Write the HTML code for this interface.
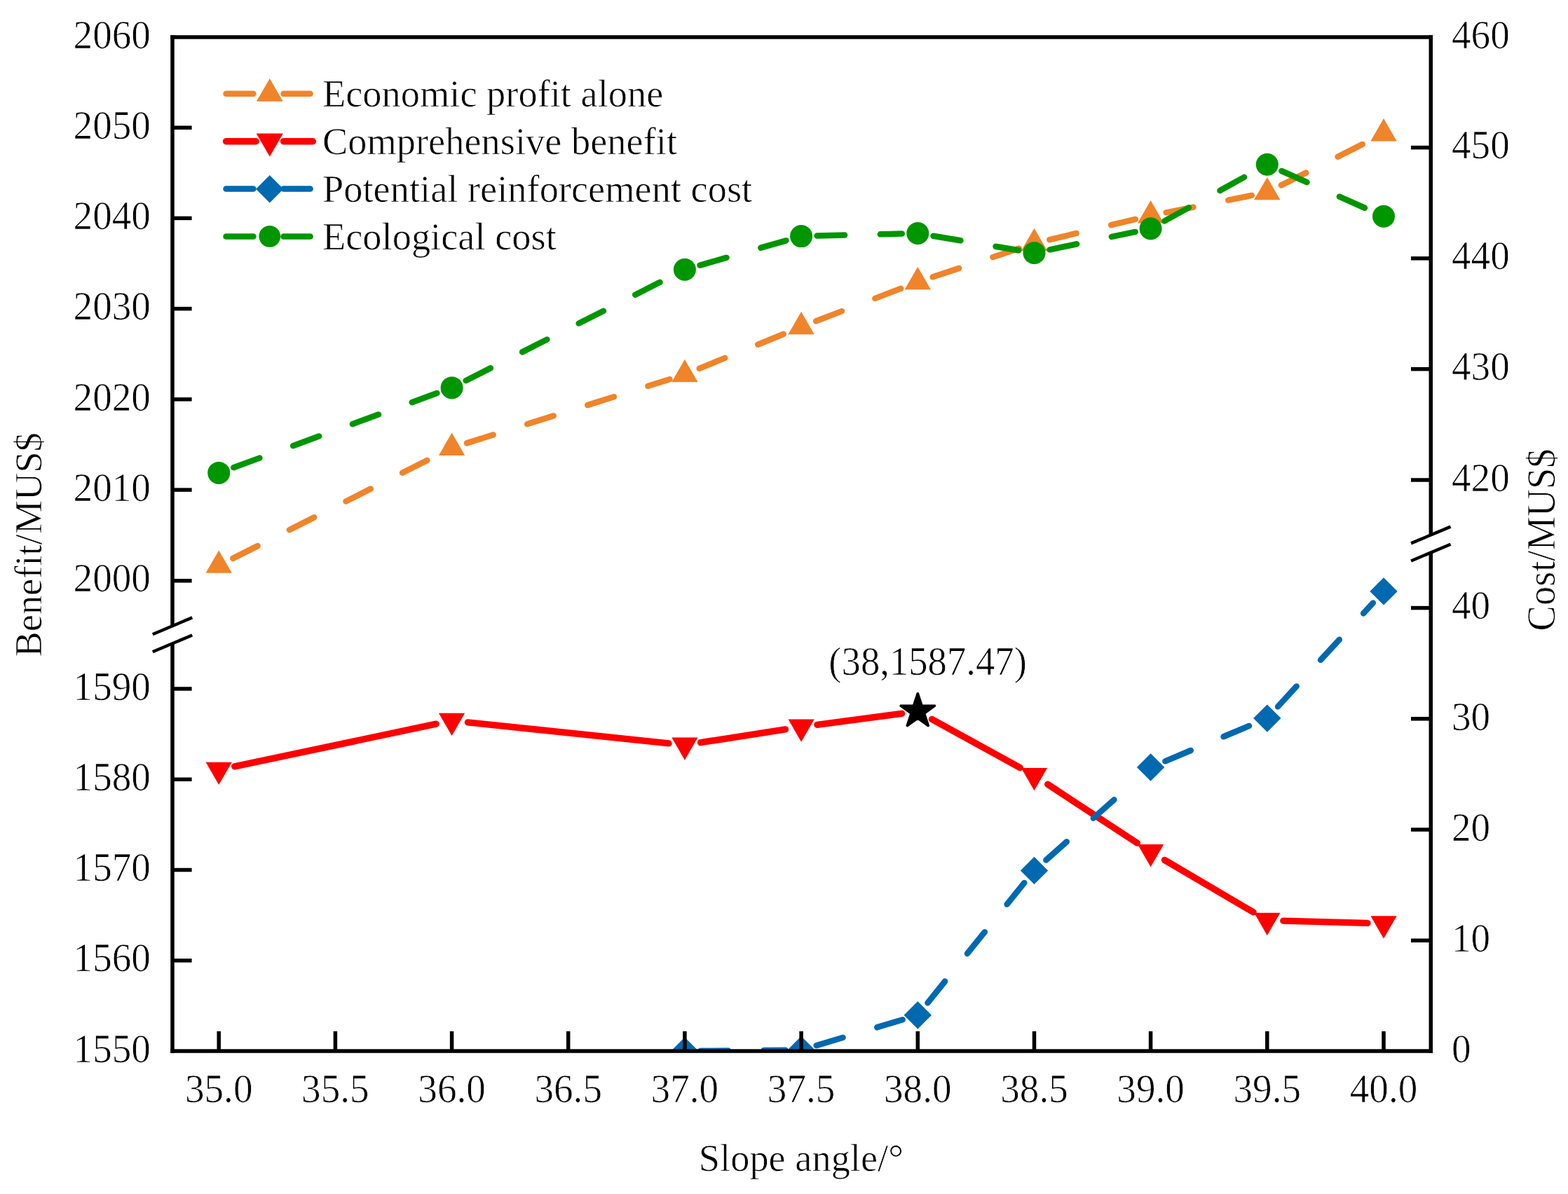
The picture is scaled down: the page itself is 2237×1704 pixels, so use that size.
<!DOCTYPE html>
<html lang="en"><head><meta charset="utf-8"><title>Benefit and cost versus slope angle</title>
<style>
html,body{margin:0;padding:0;background:#fff;}
body{width:2237px;height:1704px;overflow:hidden;}
svg{display:block;font-family:"Liberation Serif",serif;font-size:55.2px;fill:#000;}
text{stroke:#fff;stroke-width:0.7px;stroke-linejoin:round;}
</style></head><body>
<svg width="2237" height="1704" viewBox="0 0 2237 1704" role="img" aria-label="Benefit and cost versus slope angle">
<rect width="2237" height="1704" fill="#fff"/>
<defs><clipPath id="plot"><rect x="246.0" y="53.0" width="1795.3" height="1447.0"/></clipPath></defs>

<g clip-path="url(#plot)">
<line x1="332.3" y1="796.9" x2="624.5" y2="649.3" stroke="#F0842A" stroke-width="8.5" stroke-linecap="round" stroke-dasharray="39.5 50.8"/>
<line x1="666.0" y1="632.4" x2="955.5" y2="541.2" stroke="#F0842A" stroke-width="8.5" stroke-linecap="round" stroke-dasharray="39.5 50.8"/>
<line x1="997.7" y1="525.9" x2="1122.3" y2="474.9" stroke="#F0842A" stroke-width="8.5" stroke-linecap="round" stroke-dasharray="39.5 50.8"/>
<line x1="1164.1" y1="458.3" x2="1288.3" y2="410.5" stroke="#F0842A" stroke-width="8.5" stroke-linecap="round" stroke-dasharray="39.5 50.8"/>
<line x1="1330.6" y1="395.3" x2="1454.1" y2="354.4" stroke="#F0842A" stroke-width="8.5" stroke-linecap="round" stroke-dasharray="39.5 50.8"/>
<line x1="1497.3" y1="342.1" x2="1619.8" y2="312.9" stroke="#F0842A" stroke-width="8.5" stroke-linecap="round" stroke-dasharray="39.5 50.8"/>
<line x1="1663.7" y1="303.3" x2="1785.8" y2="278.9" stroke="#F0842A" stroke-width="8.5" stroke-linecap="round" stroke-dasharray="39.5 50.8"/>
<line x1="1827.9" y1="264.4" x2="1953.9" y2="200.8" stroke="#F0842A" stroke-width="8.5" stroke-linecap="round" stroke-dasharray="39.5 50.8"/>
<polygon points="312.2,785.4 330.9,817.8 293.5,817.8" fill="#F0842A"/>
<polygon points="644.6,617.6 663.3,650.0 625.9,650.0" fill="#F0842A"/>
<polygon points="976.9,512.8 995.6,545.2 958.2,545.2" fill="#F0842A"/>
<polygon points="1143.1,444.8 1161.8,477.2 1124.4,477.2" fill="#F0842A"/>
<polygon points="1309.3,380.8 1328.0,413.2 1290.6,413.2" fill="#F0842A"/>
<polygon points="1475.5,325.7 1494.2,358.1 1456.8,358.1" fill="#F0842A"/>
<polygon points="1641.6,286.1 1660.3,318.5 1622.9,318.5" fill="#F0842A"/>
<polygon points="1807.8,252.9 1826.5,285.3 1789.1,285.3" fill="#F0842A"/>
<polygon points="1974.0,169.1 1992.7,201.5 1955.3,201.5" fill="#F0842A"/>
<line x1="334.7" y1="1093.9" x2="622.1" y2="1033.2" stroke="#FF0000" stroke-width="9.4" stroke-linecap="round"/>
<line x1="667.4" y1="1030.9" x2="954.0" y2="1060.9" stroke="#FF0000" stroke-width="9.4" stroke-linecap="round"/>
<line x1="999.6" y1="1059.7" x2="1120.4" y2="1040.9" stroke="#FF0000" stroke-width="9.4" stroke-linecap="round"/>
<line x1="1165.9" y1="1034.3" x2="1286.5" y2="1018.3" stroke="#FF0000" stroke-width="9.4" stroke-linecap="round"/>
<line x1="1329.4" y1="1026.4" x2="1455.3" y2="1095.6" stroke="#FF0000" stroke-width="9.4" stroke-linecap="round"/>
<line x1="1494.7" y1="1119.3" x2="1622.4" y2="1203.1" stroke="#FF0000" stroke-width="9.4" stroke-linecap="round"/>
<line x1="1661.5" y1="1227.4" x2="1788.0" y2="1301.8" stroke="#FF0000" stroke-width="9.4" stroke-linecap="round"/>
<line x1="1830.8" y1="1314.1" x2="1951.0" y2="1317.4" stroke="#FF0000" stroke-width="9.4" stroke-linecap="round"/>
<polygon points="312.2,1120.1 330.8,1087.8 293.6,1087.8" fill="#FF0000"/>
<polygon points="644.6,1050.0 663.2,1017.8 625.9,1017.8" fill="#FF0000"/>
<polygon points="976.9,1084.8 995.5,1052.5 958.3,1052.5" fill="#FF0000"/>
<polygon points="1143.1,1058.8 1161.7,1026.5 1124.5,1026.5" fill="#FF0000"/>
<polygon points="1475.5,1128.2 1494.1,1096.0 1456.8,1096.0" fill="#FF0000"/>
<polygon points="1641.6,1237.2 1660.3,1205.0 1623.0,1205.0" fill="#FF0000"/>
<polygon points="1807.8,1335.0 1826.4,1302.8 1789.2,1302.8" fill="#FF0000"/>
<polygon points="1974.0,1339.5 1992.6,1307.2 1955.4,1307.2" fill="#FF0000"/>
<line x1="999.4" y1="1499.8" x2="1120.6" y2="1498.7" stroke="#0069B0" stroke-width="8.5" stroke-linecap="round" stroke-dasharray="39.5 50.8"/>
<line x1="1164.7" y1="1492.1" x2="1287.7" y2="1455.2" stroke="#0069B0" stroke-width="8.5" stroke-linecap="round" stroke-dasharray="39.5 50.8"/>
<line x1="1323.4" y1="1431.3" x2="1461.3" y2="1259.9" stroke="#0069B0" stroke-width="8.5" stroke-linecap="round" stroke-dasharray="39.5 50.8"/>
<line x1="1492.3" y1="1227.5" x2="1624.8" y2="1109.9" stroke="#0069B0" stroke-width="8.5" stroke-linecap="round" stroke-dasharray="39.5 50.8"/>
<line x1="1662.4" y1="1086.3" x2="1787.1" y2="1033.8" stroke="#0069B0" stroke-width="8.5" stroke-linecap="round" stroke-dasharray="39.5 50.8"/>
<line x1="1823.0" y1="1008.5" x2="1958.8" y2="860.5" stroke="#0069B0" stroke-width="8.5" stroke-linecap="round" stroke-dasharray="39.5 50.8"/>
<polygon points="976.9,1480.3 996.6,1500.0 976.9,1519.7 957.2,1500.0" fill="#0069B0"/>
<polygon points="1143.1,1478.8 1162.8,1498.5 1143.1,1518.2 1123.4,1498.5" fill="#0069B0"/>
<polygon points="1309.3,1429.1 1329.0,1448.8 1309.3,1468.5 1289.6,1448.8" fill="#0069B0"/>
<polygon points="1475.5,1222.7 1495.2,1242.4 1475.5,1262.1 1455.8,1242.4" fill="#0069B0"/>
<polygon points="1641.6,1075.3 1661.3,1095.0 1641.6,1114.7 1621.9,1095.0" fill="#0069B0"/>
<polygon points="1807.8,1005.4 1827.5,1025.1 1807.8,1044.8 1788.1,1025.1" fill="#0069B0"/>
<polygon points="1974.0,824.2 1993.7,843.9 1974.0,863.6 1954.3,843.9" fill="#0069B0"/>
<line x1="333.3" y1="667.2" x2="623.4" y2="561.1" stroke="#009600" stroke-width="8.5" stroke-linecap="round" stroke-dasharray="39.5 50.8"/>
<line x1="664.6" y1="543.2" x2="956.9" y2="395.0" stroke="#009600" stroke-width="8.5" stroke-linecap="round" stroke-dasharray="39.5 50.8"/>
<line x1="998.5" y1="378.6" x2="1121.5" y2="343.3" stroke="#009600" stroke-width="8.5" stroke-linecap="round" stroke-dasharray="39.5 50.8"/>
<line x1="1165.6" y1="336.5" x2="1286.8" y2="333.6" stroke="#009600" stroke-width="8.5" stroke-linecap="round" stroke-dasharray="39.5 50.8"/>
<line x1="1331.5" y1="336.7" x2="1453.3" y2="357.2" stroke="#009600" stroke-width="8.5" stroke-linecap="round" stroke-dasharray="39.5 50.8"/>
<line x1="1497.5" y1="356.3" x2="1619.6" y2="330.9" stroke="#009600" stroke-width="8.5" stroke-linecap="round" stroke-dasharray="39.5 50.8"/>
<line x1="1661.3" y1="315.4" x2="1788.1" y2="245.7" stroke="#009600" stroke-width="8.5" stroke-linecap="round" stroke-dasharray="39.5 50.8"/>
<line x1="1828.4" y1="244.0" x2="1953.4" y2="299.6" stroke="#009600" stroke-width="8.5" stroke-linecap="round" stroke-dasharray="39.5 50.8"/>
<circle cx="312.2" cy="674.9" r="16.0" fill="#009600"/>
<circle cx="644.6" cy="553.4" r="16.0" fill="#009600"/>
<circle cx="976.9" cy="384.8" r="16.0" fill="#009600"/>
<circle cx="1143.1" cy="337.1" r="16.0" fill="#009600"/>
<circle cx="1309.3" cy="333.0" r="16.0" fill="#009600"/>
<circle cx="1475.5" cy="360.9" r="16.0" fill="#009600"/>
<circle cx="1641.6" cy="326.3" r="16.0" fill="#009600"/>
<circle cx="1807.8" cy="234.8" r="16.0" fill="#009600"/>
<circle cx="1974.0" cy="308.8" r="16.0" fill="#009600"/>
</g>
<polygon points="1309.3,988.6 1315.3,1006.9 1334.5,1006.9 1318.9,1018.2 1324.9,1036.5 1309.3,1025.2 1293.7,1036.5 1299.7,1018.2 1284.1,1006.9 1303.3,1006.9" fill="#000" stroke="#000" stroke-width="3" stroke-linejoin="bevel"/>
<g stroke="#000" stroke-width="5.5" fill="none" stroke-linecap="square">
<line x1="246.0" y1="53.0" x2="2041.3" y2="53.0"/>
<line x1="246.0" y1="1500.0" x2="2041.3" y2="1500.0"/>
<line x1="246.0" y1="53.0" x2="246.0" y2="1500.0"/>
<line x1="2041.3" y1="53.0" x2="2041.3" y2="1500.0"/>
</g>
<g stroke="#000" stroke-width="5.5" fill="none" stroke-linecap="butt">
<line x1="246.0" y1="182.2" x2="273.6" y2="182.2"/>
<line x1="246.0" y1="311.4" x2="273.6" y2="311.4"/>
<line x1="246.0" y1="440.6" x2="273.6" y2="440.6"/>
<line x1="246.0" y1="569.9" x2="273.6" y2="569.9"/>
<line x1="246.0" y1="699.1" x2="273.6" y2="699.1"/>
<line x1="246.0" y1="828.8" x2="273.6" y2="828.8"/>
<line x1="246.0" y1="983.0" x2="273.6" y2="983.0"/>
<line x1="246.0" y1="1112.3" x2="273.6" y2="1112.3"/>
<line x1="246.0" y1="1241.5" x2="273.6" y2="1241.5"/>
<line x1="246.0" y1="1370.8" x2="273.6" y2="1370.8"/>
<line x1="2041.3" y1="210.6" x2="2013.0" y2="210.6"/>
<line x1="2041.3" y1="368.7" x2="2013.0" y2="368.7"/>
<line x1="2041.3" y1="526.7" x2="2013.0" y2="526.7"/>
<line x1="2041.3" y1="685.0" x2="2013.0" y2="685.0"/>
<line x1="2041.3" y1="867.6" x2="2013.0" y2="867.6"/>
<line x1="2041.3" y1="1025.8" x2="2013.0" y2="1025.8"/>
<line x1="2041.3" y1="1184.0" x2="2013.0" y2="1184.0"/>
<line x1="2041.3" y1="1342.2" x2="2013.0" y2="1342.2"/>
<line x1="312.2" y1="1500.0" x2="312.2" y2="1471.7"/>
<line x1="478.4" y1="1500.0" x2="478.4" y2="1471.7"/>
<line x1="644.6" y1="1500.0" x2="644.6" y2="1471.7"/>
<line x1="810.7" y1="1500.0" x2="810.7" y2="1471.7"/>
<line x1="976.9" y1="1500.0" x2="976.9" y2="1471.7"/>
<line x1="1143.1" y1="1500.0" x2="1143.1" y2="1471.7"/>
<line x1="1309.3" y1="1500.0" x2="1309.3" y2="1471.7"/>
<line x1="1475.5" y1="1500.0" x2="1475.5" y2="1471.7"/>
<line x1="1641.6" y1="1500.0" x2="1641.6" y2="1471.7"/>
<line x1="1807.8" y1="1500.0" x2="1807.8" y2="1471.7"/>
<line x1="1974.0" y1="1500.0" x2="1974.0" y2="1471.7"/>
</g>
<rect x="240.0" y="893.6" width="12" height="25" fill="#fff"/>
<line x1="217.8" y1="905.2" x2="274.2" y2="881.4000000000001" stroke="#000" stroke-width="4.5" stroke-linecap="butt"/>
<line x1="217.8" y1="930.3" x2="274.2" y2="906.5" stroke="#000" stroke-width="4.5" stroke-linecap="butt"/>
<rect x="2035.3" y="763.8" width="12" height="25" fill="#fff"/>
<line x1="2013.1" y1="775.4" x2="2069.5" y2="751.6" stroke="#000" stroke-width="4.5" stroke-linecap="butt"/>
<line x1="2013.1" y1="800.4999999999999" x2="2069.5" y2="776.6999999999999" stroke="#000" stroke-width="4.5" stroke-linecap="butt"/>
<g text-anchor="end">
<text transform="translate(214.9,68.6) scale(1,1.045)">2060</text>
<text transform="translate(214.9,197.8) scale(1,1.045)">2050</text>
<text transform="translate(214.9,327.0) scale(1,1.045)">2040</text>
<text transform="translate(214.9,456.2) scale(1,1.045)">2030</text>
<text transform="translate(214.9,585.5) scale(1,1.045)">2020</text>
<text transform="translate(214.9,714.7) scale(1,1.045)">2010</text>
<text transform="translate(214.9,844.4) scale(1,1.045)">2000</text>
<text transform="translate(214.9,998.6) scale(1,1.045)">1590</text>
<text transform="translate(214.9,1127.9) scale(1,1.045)">1580</text>
<text transform="translate(214.9,1257.1) scale(1,1.045)">1570</text>
<text transform="translate(214.9,1386.4) scale(1,1.045)">1560</text>
<text transform="translate(214.9,1515.6) scale(1,1.045)">1550</text>
</g>
<g text-anchor="start">
<text transform="translate(2071.0,68.7) scale(1,1.045)">460</text>
<text transform="translate(2071.0,226.3) scale(1,1.045)">450</text>
<text transform="translate(2071.0,384.4) scale(1,1.045)">440</text>
<text transform="translate(2071.0,542.4) scale(1,1.045)">430</text>
<text transform="translate(2071.0,700.7) scale(1,1.045)">420</text>
<text transform="translate(2071.0,883.3) scale(1,1.045)">40</text>
<text transform="translate(2071.0,1041.5) scale(1,1.045)">30</text>
<text transform="translate(2071.0,1199.7) scale(1,1.045)">20</text>
<text transform="translate(2071.0,1357.9) scale(1,1.045)">10</text>
<text transform="translate(2071.0,1515.7) scale(1,1.045)">0</text>
</g>
<g text-anchor="middle">
<text transform="translate(312.2,1572.7) scale(1,1.045)">35.0</text>
<text transform="translate(478.4,1572.7) scale(1,1.045)">35.5</text>
<text transform="translate(644.6,1572.7) scale(1,1.045)">36.0</text>
<text transform="translate(810.7,1572.7) scale(1,1.045)">36.5</text>
<text transform="translate(976.9,1572.7) scale(1,1.045)">37.0</text>
<text transform="translate(1143.1,1572.7) scale(1,1.045)">37.5</text>
<text transform="translate(1309.3,1572.7) scale(1,1.045)">38.0</text>
<text transform="translate(1475.5,1572.7) scale(1,1.045)">38.5</text>
<text transform="translate(1641.6,1572.7) scale(1,1.045)">39.0</text>
<text transform="translate(1807.8,1572.7) scale(1,1.045)">39.5</text>
<text transform="translate(1974.0,1572.7) scale(1,1.045)">40.0</text>
</g>
<g style="font-size:54.4px" text-anchor="middle">
<text x="1142.9" y="1671.1">Slope angle/°</text>
<text transform="translate(59.3,777.4) rotate(-90) scale(1,1.01)">Benefit/MUS$</text>
<text transform="translate(2218.4,770.4) rotate(-90) scale(1,1.05)">Cost/MUS$</text>
<text transform="translate(1323.6,962.9) scale(1,1.03)" style="font-size:54.7px">(38,1587.47)</text>
</g>
<line x1="322.5" y1="133.7" x2="361.4" y2="133.7" stroke="#F0842A" stroke-width="8.5" stroke-linecap="round"/>
<line x1="404.5" y1="133.7" x2="442.6" y2="133.7" stroke="#F0842A" stroke-width="8.5" stroke-linecap="round"/>
<polygon points="384.8,111.9 403.7,144.8 365.8,144.8" fill="#F0842A"/>
<text transform="translate(460,151.8) scale(1,1.025)" style="font-size:54.4px">Economic profit alone</text>
<line x1="322.5" y1="201.8" x2="365.1" y2="201.8" stroke="#FF0000" stroke-width="9.4" stroke-linecap="round"/>
<line x1="404.5" y1="201.8" x2="446.3" y2="201.8" stroke="#FF0000" stroke-width="9.4" stroke-linecap="round"/>
<polygon points="384.8,223.4 403.8,190.4 365.7,190.4" fill="#FF0000"/>
<text transform="translate(460,219.9) scale(1,1.025)" style="font-size:54.4px">Comprehensive benefit</text>
<line x1="322.5" y1="269.5" x2="361.4" y2="269.5" stroke="#0069B0" stroke-width="8.5" stroke-linecap="round"/>
<line x1="404.5" y1="269.5" x2="442.6" y2="269.5" stroke="#0069B0" stroke-width="8.5" stroke-linecap="round"/>
<polygon points="384.8,250.0 404.4,269.7 384.8,289.4 365.1,269.7" fill="#0069B0"/>
<text transform="translate(460,287.6) scale(1,1.025)" style="font-size:54.4px">Potential reinforcement cost</text>
<line x1="322.5" y1="337.5" x2="361.4" y2="337.5" stroke="#009600" stroke-width="8.5" stroke-linecap="round"/>
<line x1="404.5" y1="337.5" x2="442.6" y2="337.5" stroke="#009600" stroke-width="8.5" stroke-linecap="round"/>
<circle cx="384.8" cy="337.3" r="15.4" fill="#009600"/>
<text transform="translate(460,355.6) scale(1,1.025)" style="font-size:54.4px">Ecological cost</text>
</svg>
</body></html>
